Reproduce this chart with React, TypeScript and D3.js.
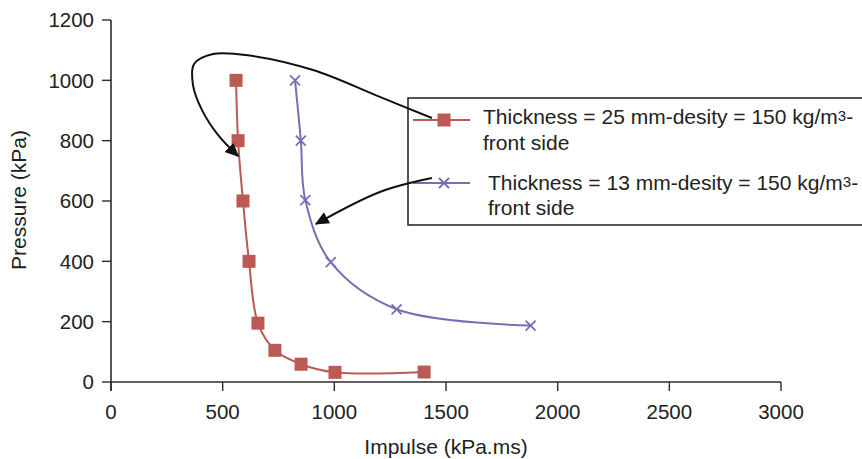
import { useEffect } from 'react';
import * as d3 from 'd3';

// impulse (kPa.ms) / pressure (kPa)
const thick25Impulse = [560, 569, 591, 618, 658, 734, 851, 1003, 1402];
const thick25Pressure = [1000, 800, 600, 400, 195, 105, 59, 32, 33];
const thick13Impulse = [824, 850, 870, 984, 1279, 1879];
const thick13Pressure = [1000, 800, 603, 397, 241, 187];

const xTicks = [0, 500, 1000, 1500, 2000, 2500, 3000];
const yTicks = [0, 200, 400, 600, 800, 1000, 1200];

const legendLabels = [
  ['Thickness = 25 mm-desity = 150 kg/m', '3', '-', 'front side'],
  ['Thickness = 13 mm-desity = 150 kg/m', '3', '-', 'front side'],
];

// annotation arrows, in data units
const arrow1 = [
  [1437, 875], [1204, 945], [905, 1034], [622, 1082], [457, 1087],
  [372, 1054], [367, 985], [407, 902], [479, 819], [569, 749],
];
const arrow2 = [[1437, 676], [1204, 630], [918, 524]];

const RED = '#bb5a55';
const BLUE = '#7670b3';
const AXIS = '#2b2b2b';

function App() {
  useEffect(() => {
    document.body.style.margin = '0';
  }, []);

  const width = 862,
    height = 459;

  const x = d3.scaleLinear().domain([0, 3000]).range([111, 781]);
  const y = d3.scaleLinear().domain([0, 1200]).range([382, 20]);

  const line = d3
    .line<[number, number]>()
    .x((d) => x(d[0]))
    .y((d) => y(d[1]))
    .curve(d3.curveCatmullRom.alpha(0.5));

  const red = thick25Impulse.map((v, i) => [v, thick25Pressure[i]] as [number, number]);
  const blue = thick13Impulse.map((v, i) => [v, thick13Pressure[i]] as [number, number]);

  const arrowLine = d3
    .line<number[]>()
    .x((d) => x(d[0]))
    .y((d) => y(d[1]))
    .curve(d3.curveCatmullRom.alpha(0.5));

  const font = "'Liberation Sans', Arial, sans-serif";

  const cross = (cx: number, cy: number, key: number) => (
    <g key={key} stroke={BLUE} strokeWidth={1.8}>
      <line x1={cx - 5} y1={cy - 5} x2={cx + 5} y2={cy + 5} />
      <line x1={cx - 5} y1={cy + 5} x2={cx + 5} y2={cy - 5} />
    </g>
  );

  return (
    <svg width={width} height={height} style={{ display: 'block', fontFamily: font }}>
      <defs>
        <marker id="ah" viewBox="0 0 10 10" refX="9" refY="5" markerWidth="14" markerHeight="14"
          markerUnits="userSpaceOnUse" orient="auto">
          <path d="M0,0.5 L10,5 L0,9.5 z" fill="#111" />
        </marker>
      </defs>
      <rect width={width} height={height} fill="#fff" />

      {/* axes */}
      <line x1={x(0)} x2={x(3000)} y1={y(0)} y2={y(0)} stroke={AXIS} strokeWidth={1.6} />
      <line x1={x(0)} x2={x(0)} y1={y(1200)} y2={y(0) + 9} stroke={AXIS} strokeWidth={1.6} />
      {yTicks.map((t) => (
        <g key={'y' + t}>
          <line x1={x(0) - 9} x2={x(0)} y1={y(t)} y2={y(t)} stroke={AXIS} strokeWidth={1.4} />
          <text x={x(0) - 17} y={y(t)} dy="0.35em" textAnchor="end" fontSize={20.5} fill="#222">
            {t}
          </text>
        </g>
      ))}
      {xTicks.map((t) => (
        <g key={'x' + t}>
          <line x1={x(t)} x2={x(t)} y1={y(0)} y2={y(0) + 9} stroke={AXIS} strokeWidth={1.4} />
          <text x={x(t)} y={y(0) + 37} textAnchor="middle" fontSize={20.5} fill="#222">
            {t}
          </text>
        </g>
      ))}
      <text x={446} y={454} textAnchor="middle" fontSize={21} fill="#222">
        Impulse (kPa.ms)
      </text>
      <text transform="translate(26,200) rotate(-90)" textAnchor="middle" fontSize={21} fill="#222">
        Pressure (kPa)
      </text>

      {/* series */}
      <path d={line(red) ?? ''} fill="none" stroke={RED} strokeWidth={2} />
      {red.map((d, i) => (
        <rect key={i} x={x(d[0]) - 6.5} y={y(d[1]) - 6.5} width={13} height={13} fill={RED} />
      ))}
      <path d={line(blue) ?? ''} fill="none" stroke={BLUE} strokeWidth={2} />
      {blue.map((d, i) => cross(x(d[0]), y(d[1]), i))}

      {/* legend */}
      <rect x={408} y={98} width={470} height={127} fill="#fff" stroke={AXIS} strokeWidth={1.6} />
      <line x1={413} x2={470} y1={120} y2={120} stroke={RED} strokeWidth={2} />
      <rect x={437.5} y={113.5} width={13} height={13} fill={RED} />
      <line x1={413} x2={470} y1={183} y2={183} stroke={BLUE} strokeWidth={2} />
      {cross(444, 183, 99)}
      {legendLabels.map((l, i) => (
        <g key={'l' + i} fontSize={21} fill="#222">
          <text x={i === 0 ? 483 : 488} y={i === 0 ? 124 : 190}>
            {l[0]}
            <tspan fontSize={15} dy={-3}>{l[1]}</tspan>
            <tspan dy={3}>{l[2]}</tspan>
          </text>
          <text x={i === 0 ? 483 : 488} y={i === 0 ? 150 : 215}>
            {l[3]}
          </text>
        </g>
      ))}

      {/* annotation arrows */}
      <path d={arrowLine(arrow1) ?? ''} fill="none" stroke="#111" strokeWidth={2} markerEnd="url(#ah)" />
      <path d={arrowLine(arrow2) ?? ''} fill="none" stroke="#111" strokeWidth={2} markerEnd="url(#ah)" />
    </svg>
  );
}

export default App;
